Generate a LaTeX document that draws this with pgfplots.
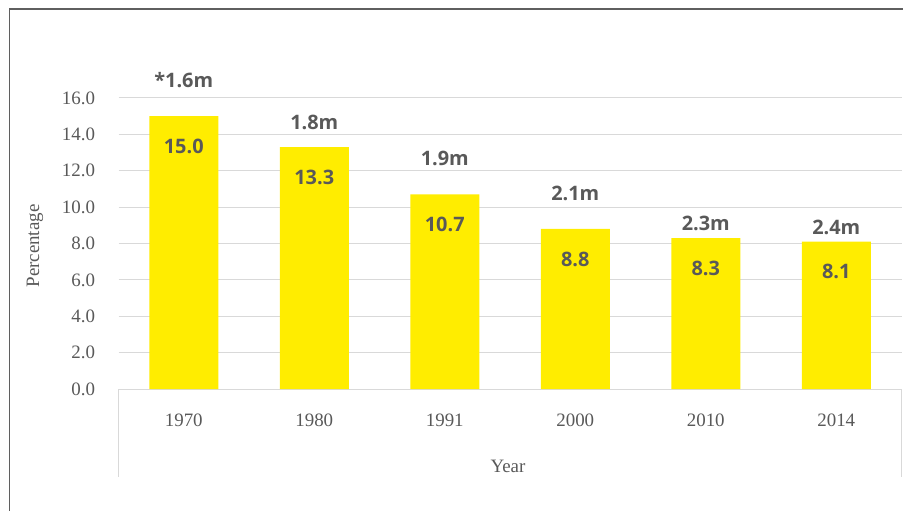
\documentclass[border=0pt]{standalone}
\usepackage{pgfplots}
\pgfplotsset{compat=1.18}
\usepackage{fontspec}
\setmainfont{Liberation Serif}
\newfontfamily\labfont{Open Sans}
\definecolor{txt}{HTML}{595959}
\definecolor{gridc}{HTML}{D9D9D9}
\definecolor{bary}{HTML}{FFED00}
\definecolor{framec}{HTML}{5F5F5F}
\begin{document}
\begin{tikzpicture}
\useasboundingbox (0bp,0bp) rectangle (903bp,511bp);
\draw[line width=1.5bp, color=framec] (9.5bp,0bp) -- (9.5bp,502bp) -- (903bp,502bp);
\begin{axis}[
  at={(118.5bp,122bp)}, anchor=south west,
  scale only axis, width=783bp, height=291bp,
  xmin=-0.5, xmax=5.5, ymin=0, ymax=16,
  xtick={0,1,2,3,4,5}, xticklabels={1970,1980,1991,2000,2010,2014},
  ytick={0,2,4,6,8,10,12,14,16},
  yticklabel={\pgfmathprintnumber[fixed,fixed zerofill,precision=1,assume math mode=true]{\tick}},
  major tick length=0pt,
  ymajorgrids, grid style={gridc, line width=1bp},
  axis x line*=bottom, axis y line*=left,
  x axis line style={gridc, line width=1bp, -},
  y axis line style={draw=none},
  tick label style={font=\fontsize{19}{21}\selectfont, text=txt},
  yticklabel style={xshift=-20bp},
  xticklabel style={yshift=-21bp},
  clip=false,
]
\addplot[ybar, bar width=69bp, bar shift=0pt, fill=bary, draw=none,
  nodes near coords, point meta=explicit symbolic,
  every node near coord/.append style={anchor=center, yshift=-30bp,
    font=\labfont\bfseries\fontsize{20}{22}\selectfont, text=txt}]
  table[meta=lab] {
x y lab
0 15.0 15.0
1 13.3 13.3
2 10.7 10.7
3 8.8 8.8
4 8.3 8.3
5 8.1 8.1
};
\addplot[draw=none, mark=none,
  nodes near coords, point meta=explicit symbolic,
  every node near coord/.append style={anchor=center,
    font=\labfont\bfseries\fontsize{20}{22}\selectfont, text=txt}]
  table[meta=lab] {
x y lab
0 16.99 *1.6m
1 14.68 1.8m
2 12.70 1.9m
3 10.78 2.1m
4 9.13 2.3m
5 8.91 2.4m
};
\draw[gridc, line width=1bp] (rel axis cs:0,0) -- ([yshift=-88bp]rel axis cs:0,0);
\draw[gridc, line width=1bp] (rel axis cs:1,0) -- ([yshift=-88bp]rel axis cs:1,0);
\end{axis}
\node[rotate=90, text=txt, font=\fontsize{19}{21}\selectfont] at (35bp,265bp) {Percentage};
\node[text=txt, font=\fontsize{19}{21}\selectfont] at (508bp,45bp) {Year};
\end{tikzpicture}
\end{document}
